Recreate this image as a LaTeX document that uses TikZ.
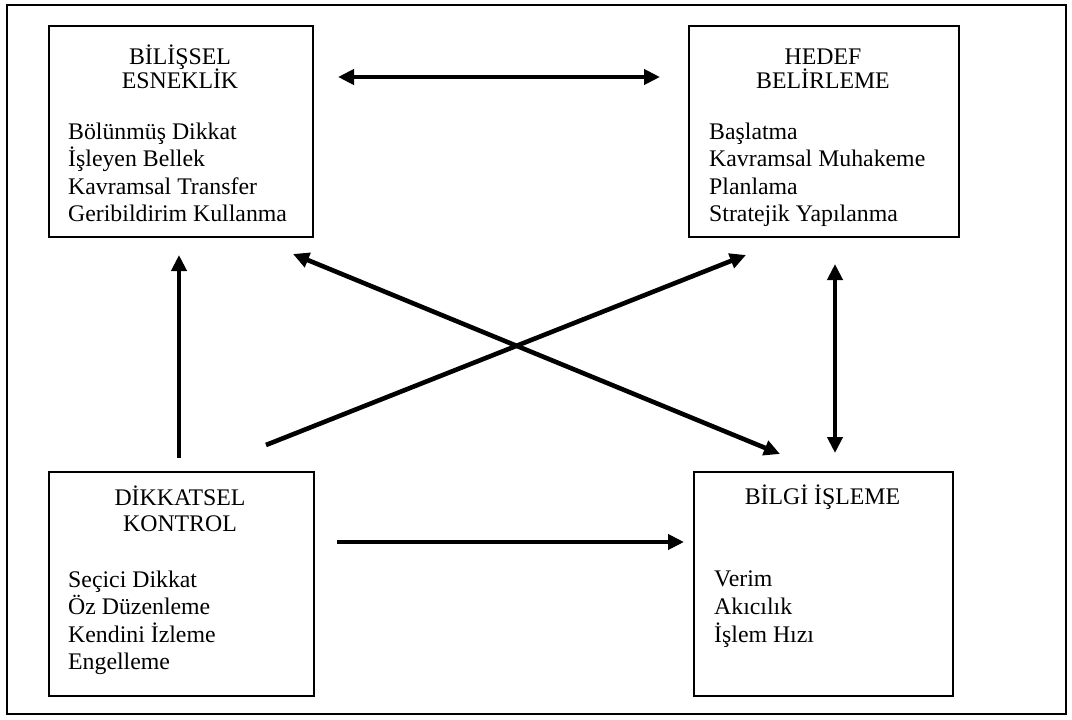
\documentclass[tikz,border=0pt]{standalone}
\usepackage{fontspec}
\setmainfont{Liberation Serif}
\usetikzlibrary{arrows.meta}
\tikzset{
  box/.style={draw, line width=1.6pt, anchor=north west, inner sep=0pt},
  ttl/.style={anchor=base, inner sep=0pt, font=\fontsize{23.8}{27}\selectfont},
  itm/.style={anchor=base west, inner sep=0pt, font=\fontsize{23.8}{27}\selectfont},
  tip/.tip={Triangle[length=16pt,width=15pt]},
  arr/.style={line width=4.6pt, -tip},
  darr/.style={line width=4.6pt, tip-tip}
}
\begin{document}
\begin{tikzpicture}[x=1pt,y=-1pt]
\useasboundingbox (0,0) rectangle (1072,720);
\draw[line width=2.2pt] (7,5) rectangle (1066,714);
% boxes
\node[box, minimum width=264pt, minimum height=211pt] (b1) at (48,25) {};
\node[box, minimum width=270pt, minimum height=211pt] (b2) at (688,25) {};
\node[box, minimum width=265pt, minimum height=224pt] (b3) at (48,471) {};
\node[box, minimum width=259pt, minimum height=224pt] (b4) at (693,471) {};
% box 1
\node[ttl] (t1a) at (180,64) {BİLİŞSEL};
\node[ttl] (t1b) at (180,88) {ESNEKLİK};
\node[itm] (i1a) at (68,139) {Bölünmüş Dikkat};
\node[itm] (i1b) at (68,166) {İşleyen Bellek};
\node[itm] (i1c) at (68,194) {Kavramsal Transfer};
\node[itm] (i1d) at (68,221) {Geribildirim Kullanma};
% box 2
\node[ttl] (t2a) at (823,64) {HEDEF};
\node[ttl] (t2b) at (823,88) {BELİRLEME};
\node[itm] (i2a) at (709,139) {Başlatma};
\node[itm] (i2b) at (709,166) {Kavramsal Muhakeme};
\node[itm] (i2c) at (709,194) {Planlama};
\node[itm] (i2d) at (709,221) {Stratejik Yapılanma};
% box 3
\node[ttl] (t3a) at (180,505) {DİKKATSEL};
\node[ttl] (t3b) at (180,531) {KONTROL};
\node[itm] (i3a) at (68,587) {Seçici Dikkat};
\node[itm] (i3b) at (68,614) {Öz Düzenleme};
\node[itm] (i3c) at (68,642) {Kendini İzleme};
\node[itm] (i3d) at (68,669) {Engelleme};
% box 4
\node[ttl] (t4a) at (822.5,504) {BİLGİ İŞLEME};
\node[itm] (i4a) at (714,586) {Verim};
\node[itm] (i4b) at (714,614) {Akıcılık};
\node[itm] (i4c) at (714,642) {İşlem Hızı};
% arrow end points
\coordinate (p1) at (338,77);
\coordinate (p2) at (660,77);
\coordinate (p3) at (179,458);
\coordinate (p4) at (179,255);
\coordinate (p5) at (293,254);
\coordinate (p6) at (780,454);
\coordinate (p7) at (266,445);
\coordinate (p8) at (746,255);
\coordinate (p9) at (835,264);
\coordinate (p10) at (835,453);
\coordinate (p11) at (337,542);
\coordinate (p12) at (684,542);
% arrows
\draw[darr] (p1) -- (p2);
\draw[arr] (p3) -- (p4);
\draw[darr] (p5) -- (p6);
\draw[arr] (p7) -- (p8);
\draw[darr] (p9) -- (p10);
\draw[arr] (p11) -- (p12);
\end{tikzpicture}
\end{document}
